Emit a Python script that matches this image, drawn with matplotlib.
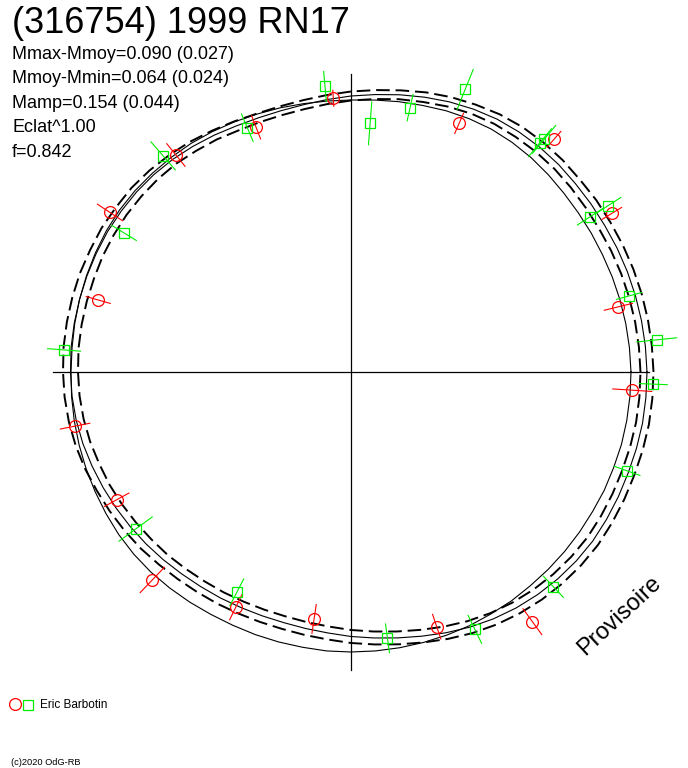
import numpy as np
import matplotlib
matplotlib.use('Agg')
import matplotlib.pyplot as plt

plt.rcParams['font.family'] = ['Liberation Sans', 'DejaVu Sans']

# title / statistics
title = '(316754) 1999 RN17'
info_lines = ['Mmax-Mmoy=0.090 (0.027)', 'Mmoy-Mmin=0.064 (0.024)',
              'Mamp=0.154 (0.044)', 'Eclat^1.00', 'f=0.842']
observer = 'Eric Barbotin'

# curves: radius (plot units) every 5 degrees of phase angle
curve_deg = np.arange(0, 360, 5)
fit_r = [296, 295.5, 295, 294.5, 294, 293.5, 293, 293, 293, 293.5, 293.5, 293,
         292, 290, 287.5, 284.5, 281.5, 278.5, 276, 273.5, 271.5, 270.5, 270.5, 271.5,
         273.5, 275.5, 277.5, 279, 280, 280.5, 281, 281, 281, 281, 281, 281,
         280.5, 280, 279, 277.5, 275.5, 273.5, 271.5, 269.5, 267.5, 265.5, 263.5, 262,
         261, 260, 259.5, 259.5, 260.5, 262, 264.5, 267, 270, 273.5, 277.5, 281.5,
         285, 288, 290.5, 292.5, 294, 295, 295, 295, 295, 295.5, 296, 296]
sig_r = [6.5, 6.5, 6.5, 6.5, 6.5, 6.5, 6.5, 6.5, 6, 6, 6, 6,
         5.5, 5, 5, 5, 4.5, 4.5, 4.5, 4.5, 4.5, 4.5, 4.5, 5,
         5, 5.5, 5.5, 6, 6.5, 6.5, 7, 7, 7.5, 7.5, 7.5, 7.5,
         7.5, 7.5, 7.5, 7.5, 7.5, 7, 7, 7, 7, 6.5, 6.5, 6.5,
         6.5, 6.5, 6.5, 6.5, 6.5, 6.5, 6.5, 6.5, 6.5, 6.5, 6.5, 6.5,
         6.5, 6.5, 6.5, 6.5, 6.5, 6.5, 6.5, 6.5, 6.5, 6.5, 6.5, 6.5]
ref_r = [280, 279.5, 279, 278.5, 278, 277.5, 277.5, 277.5, 278, 279, 280, 280.5,
         280.5, 279.5, 278, 276, 274.5, 273, 272, 272, 272.5, 273.5, 274.5, 276,
         277.5, 279, 280, 281, 282, 282.5, 282.5, 282, 281.5, 281, 280.5, 280,
         280, 280.5, 281, 281.5, 282, 282.5, 283, 283.5, 283.5, 283, 282, 281,
         280, 279.5, 279.5, 279.5, 279.5, 280, 280, 280, 280, 280, 280, 280,
         279.5, 279.5, 279, 279, 279, 279, 279, 279.5, 279.5, 280, 280, 280]

# session 1 (red circles): angle deg, radius, half error bar
red_deg = [93.7, 111.2, 128.9, 146.5, 164.1, 191.1, 208.6, 226.3, 243.9,
           261.5, 288.6, 306.0, 356.3, 13.7, 31.3, 48.9, 66.5]
red_r = [274.3, 262.5, 278.8, 289.1, 262.8, 281.2, 267.0, 287.6, 261.9,
         249.7, 268.7, 308.6, 281.9, 275.2, 305.2, 308.8, 271.1]
red_err = [8, 12.5, 14.5, 15, 12.5, 15, 14, 17.5, 14, 14.5, 13, 16, 19.5,
           14.5, 11.5, 10.5, 11]

# session 2 (green squares)
grn_deg = [95.2, 85.6, 77.4, 68.0, 50.5, 50.3, 33.0, 32.9, 15.3, 6.0, 357.7,
           340.3, 313.3, 295.7, 277.8, 242.6, 216.1, 175.6, 148.5, 131.0, 113.0]
grn_r = [286.7, 249.4, 270.8, 304.8, 297.2, 302.3, 285.0, 306.4, 288.3, 307.4,
         302.5, 293.4, 295.0, 285.6, 268.8, 248.2, 266.5, 287.8, 266.3, 286.4,
         265.4]
grn_err = [15, 21.5, 13.5, 21.5, 18, 18, 15, 15, 13, 20, 14, 13.5, 14.5, 15.5,
           14.5, 15, 20.5, 16.5, 14.5, 18.5, 15]

axis_len = 298


def to_xy(deg, r):
    t = np.radians(np.asarray(deg, dtype=float))
    r = np.asarray(r, dtype=float)
    return r * np.cos(t), r * np.sin(t)


def closed(a):
    a = np.asarray(a, dtype=float)
    return np.append(a, a[0])


fig = plt.figure(figsize=(6.88, 7.68), dpi=100)
ax = fig.add_axes([0, 0, 1, 1])
ax.set_xlim(-351, 688 - 351)
ax.set_ylim(-(768 - 372), 372)
ax.set_aspect('equal')
ax.axis('off')

ax.plot([-axis_len, axis_len], [0, 0], color='black', lw=0.9)
ax.plot([0, 0], [-axis_len, axis_len], color='black', lw=0.9)

deg_c = closed(curve_deg)
deg_c[-1] = 360
fit = closed(fit_r)
sig = closed(sig_r)
ax.plot(*to_xy(deg_c, closed(ref_r)), color='black', lw=0.8)
ax.plot(*to_xy(deg_c, fit), color='black', lw=0.8)
ax.plot(*to_xy(deg_c, fit + sig), color='black', lw=1.4, ls=(0, (7, 3)))
ax.plot(*to_xy(deg_c, fit - sig), color='black', lw=1.4, ls=(0, (7, 3)))

for degs, rs, errs, col, mk, ms in [(red_deg, red_r, red_err, '#ff0000', 'o', 8.5),
                                     (grn_deg, grn_r, grn_err, '#00ee00', 's', 7)]:
    for d, r, e in zip(degs, rs, errs):
        x0, y0 = to_xy(d, r - e)
        x1, y1 = to_xy(d, r + e)
        ax.plot([x0, x1], [y0, y1], color=col, lw=0.8)
    ax.plot(*to_xy(degs, rs), ls='none', marker=mk, ms=ms, mfc='none',
            mec=col, mew=0.9)

# texts (figure pixel coordinates, origin top-left)
def ftext(x, y, s, **kw):
    fig.text(x / 688, 1 - y / 768, s, **kw)


ftext(12, 33, title, fontsize=26, va='baseline')
for i, line in enumerate(info_lines):
    ftext(12, 59 + 24.4 * i, line, fontsize=13, va='baseline')

ftext(619, 616, 'Provisoire', fontsize=17, rotation=43, ha='center',
      va='center')

fig.lines.append(plt.Line2D([15 / 688], [1 - 704 / 768], marker='o', ms=8.5,
                            mfc='none', mec='#ff0000', mew=0.9,
                            transform=fig.transFigure))
fig.lines.append(plt.Line2D([28 / 688], [1 - 704.5 / 768], marker='s', ms=7,
                            mfc='none', mec='#00ee00', mew=0.9,
                            transform=fig.transFigure))
ftext(40, 708.5, observer, fontsize=8.5, va='baseline')
ftext(11, 765, '(c)2020 OdG-RB', fontsize=6.7, va='baseline')

fig.savefig('out.png', dpi=100, facecolor='white')
